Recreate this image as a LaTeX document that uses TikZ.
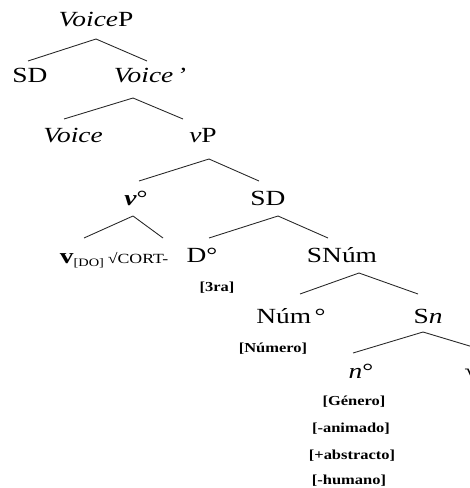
\documentclass[tikz,border=0pt]{standalone}
\usepackage{fontspec}
\setmainfont{Liberation Serif}[FakeStretch=1.27]
\newfontfamily\feat{Liberation Serif}[FakeStretch=1.2]
\tikzset{
  lab/.style={anchor=base, inner sep=0pt, font=\fontsize{16.2}{19}\selectfont},
  ft/.style={anchor=base, inner sep=0pt, font=\feat\bfseries\fontsize{10.3}{12}\selectfont},
  br/.style={line width=0.65pt, draw=black!85}
}
\begin{document}
\begin{tikzpicture}[x=0.75pt,y=-0.75pt]
\useasboundingbox (0,0) rectangle (470,488);
\clip (0,0) rectangle (470,488);
% nodes
\node[lab] (VP) at (96,27) {\textit{Voice}P};
\node[lab] (SDa) at (30,83) {SD};
\node[lab] (Vbar) at (150,83) {\textit{Voice\,’}};
\node[lab] (Voice) at (73,143) {\textit{Voice}};
\node[lab] (vP) at (203,143) {\textit{v}P};
\node[lab] (vo) at (136,205) {\textbf{\textit{v}}°};
\node[lab] (SDb) at (268,205) {SD};
\node[lab] (vdo) at (82,263) {\textbf{v}\raisebox{-2.5pt}{\fontsize{8.5}{10}\selectfont[DO]}};
\node[lab] (root) at (138,263) {\fontsize{10.5}{12}\selectfont √CORT-};
\node[lab] (Do) at (202,262) {D°};
\node[lab] (SNum) at (342,262) {SNúm};
\node[ft] (tres) at (217,291) {[3ra]};
\node[lab] (Numo) at (291,323) {Núm\,°};
\node[lab] (Sn) at (428,323) {S\textit{n}};
\node[ft] (numero) at (273,352) {[Número]};
\node[lab] (no) at (361,378) {\textit{n}°};
\node[lab, anchor=base west] (rt) at (464,378) {√};
\node[ft] (gen) at (354,405) {[Género]};
\node[ft] (anim) at (351,432) {[-animado]};
\node[ft] (abst) at (352,459) {[+abstracto]};
\node[ft] (hum) at (349,484) {[-humano]};
% branches
\draw[br] ([shift={(0,12)}]VP.base) -- ([shift={(-2,-22)}]SDa.base);
\draw[br] ([shift={(0,12)}]VP.base) -- ([shift={(-3,-22)}]Vbar.base);
\draw[br] ([shift={(-17,15)}]Vbar.base) -- ([shift={(-9,-24)}]Voice.base);
\draw[br] ([shift={(-17,15)}]Vbar.base) -- ([shift={(-20,-24)}]vP.base);
\draw[br] ([shift={(6,16)}]vP.base) -- ([shift={(3,-24)}]vo.base);
\draw[br] ([shift={(6,16)}]vP.base) -- ([shift={(-9,-24)}]SDb.base);
\draw[br] ([shift={(-3,11)}]vo.base) -- ([shift={(2,-25)}]vdo.base);
\draw[br] ([shift={(-3,11)}]vo.base) -- ([shift={(25,-25)}]root.base);
\draw[br] ([shift={(10,11)}]SDb.base) -- ([shift={(7,-24)}]Do.base);
\draw[br] ([shift={(10,11)}]SDb.base) -- ([shift={(-14,-24)}]SNum.base);
\draw[br] ([shift={(17,11)}]SNum.base) -- ([shift={(9,-29)}]Numo.base);
\draw[br] ([shift={(17,11)}]SNum.base) -- ([shift={(-10,-29)}]Sn.base);
\draw[br] ([shift={(-5,9)}]Sn.base) -- ([shift={(-8,-25)}]no.base);
\draw[br] ([shift={(-5,9)}]Sn.base) -- ([shift={(29,-25)}]rt.base west);
\end{tikzpicture}
\end{document}
